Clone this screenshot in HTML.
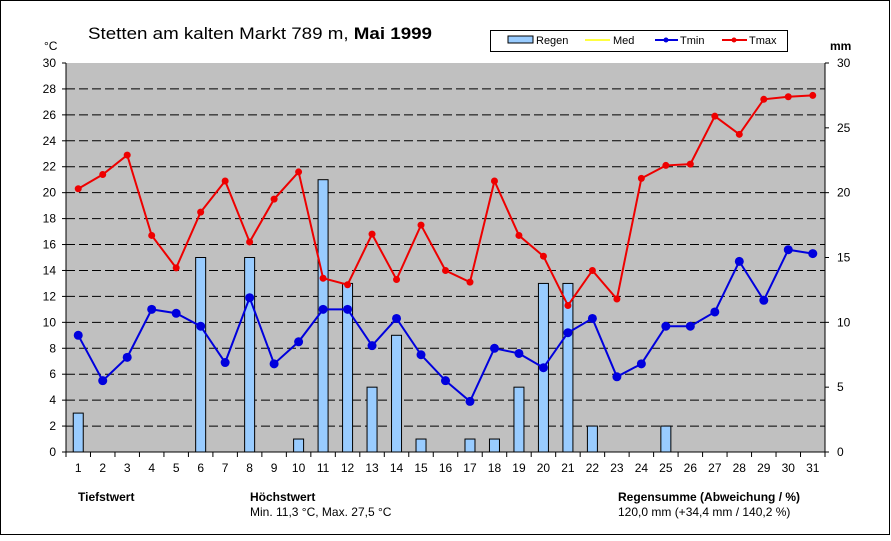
<!DOCTYPE html>
<html><head><meta charset="utf-8"><style>
body{margin:0;background:#fff;}
svg text{font-family:"Liberation Sans",Arial,sans-serif;}
</style></head><body>
<svg width="891" height="536" viewBox="0 0 891 536">
<rect x="0.5" y="0.5" width="889" height="534" fill="#fff" stroke="#000"/>
<text x="88" y="39" font-size="17" textLength="344" lengthAdjust="spacingAndGlyphs">Stetten am kalten Markt  789 m, <tspan font-weight="bold">Mai 1999</tspan></text>
<text x="44" y="50" font-size="12">°C</text>
<text x="830" y="50" font-size="12" font-weight="bold">mm</text>
<g>
<rect x="490.5" y="30.5" width="297" height="21" fill="#fff" stroke="#000"/>
<rect x="508" y="36" width="25" height="7" fill="#99ccff" stroke="#000"/>
<text x="536" y="44" font-size="11">Regen</text>
<line x1="585" y1="40" x2="610" y2="40" stroke="#ffff00" stroke-width="1.5"/>
<text x="613" y="44" font-size="11">Med</text>
<line x1="655" y1="40" x2="678" y2="40" stroke="#0000dd" stroke-width="2"/><circle cx="666" cy="40" r="2.5" fill="#0000dd"/>
<text x="680" y="44" font-size="11">Tmin</text>
<line x1="722" y1="40" x2="747" y2="40" stroke="#ee0000" stroke-width="2"/><circle cx="734" cy="40" r="2.5" fill="#ee0000"/>
<text x="749" y="44" font-size="11">Tmax</text>
</g>
<rect x="66" y="63" width="759" height="389" fill="#c0c0c0"/>
<g id="grid"></g><g id="bars"></g><g id="lines"></g><g id="axes"></g>
<text x="78" y="501" font-size="12" font-weight="bold">Tiefstwert</text>
<text x="250" y="501" font-size="12" font-weight="bold">Höchstwert</text>
<text x="250" y="516" font-size="12">Min. 11,3 °C, Max. 27,5 °C</text>
<text x="618" y="501" font-size="12" font-weight="bold">Regensumme (Abweichung / %)</text>
<text x="618" y="516" font-size="12">120,0 mm (+34,4 mm / 140,2 %)</text>
</svg>
<script>
const days=[1,2,3,4,5,6,7,8,9,10,11,12,13,14,15,16,17,18,19,20,21,22,23,24,25,26,27,28,29,30,31];
const tmax=[20.3,21.4,22.9,16.7,14.2,18.5,20.9,16.2,19.5,21.6,13.4,12.9,16.8,13.3,17.5,14.0,13.1,20.9,16.7,15.1,11.3,14.0,11.8,21.1,22.1,22.2,25.9,24.5,27.2,27.4,27.5];
const tmin=[9.0,5.5,7.3,11.0,10.7,9.7,6.9,11.9,6.8,8.5,11.0,11.0,8.2,10.3,7.5,5.5,3.9,8.0,7.6,6.5,9.2,10.3,5.8,6.8,9.7,9.7,10.8,14.7,11.7,15.6,15.3];
const rain=[3,0,0,0,0,15,0,15,0,1,21,13,5,9,1,0,1,1,5,13,13,2,0,0,2,0,0,0,0,0,0];
const leftTicks=[0,2,4,6,8,10,12,14,16,18,20,22,24,26,28,30];
const rightTicks=[0,5,10,15,20,25,30];
const NS='http://www.w3.org/2000/svg';
const X0=66,X1=825,Y0=452,Y1=63;
const step=(X1-X0)/31;
const x=d=>X0+step*(d-0.5);
const y=v=>Y0-(Y0-Y1)*v/30;
function mk(tag,attrs,parent){const e=document.createElementNS(NS,tag);for(const k in attrs)e.setAttribute(k,attrs[k]);document.getElementById(parent).appendChild(e);return e;}
leftTicks.forEach(t=>{
 if(t>0&&t<30){const l=mk('line',{x1:X0,x2:X1,y1:y(t),y2:y(t),stroke:'#000','stroke-dasharray':'9,4'},'grid');
 
 }
 mk('line',{x1:X0-4,x2:X0,y1:y(t),y2:y(t),stroke:'#000'},'axes');
 const tx=mk('text',{x:X0-10,y:y(t)+4,'font-size':12,'text-anchor':'end'},'axes');tx.textContent=t;
 
 
});
rightTicks.forEach(t=>{
 mk('line',{x1:X1,x2:X1+4,y1:y(t),y2:y(t),stroke:'#000'},'axes');
 const tx=mk('text',{x:X1+12,y:y(t)+4,'font-size':12},'axes');tx.textContent=t;
 
 
});
mk('line',{x1:X0,x2:X0,y1:Y1,y2:Y0,stroke:'#000'},'axes');
mk('line',{x1:X1,x2:X1,y1:Y1,y2:Y0,stroke:'#000'},'axes');
mk('line',{x1:X0,x2:X1,y1:Y0,y2:Y0,stroke:'#000'},'axes');
for(let i=0;i<=31;i++)mk('line',{x1:X0+step*i,x2:X0+step*i,y1:Y0,y2:Y0+5,stroke:'#000'},'axes');
days.forEach((d,i)=>{
 const tx=mk('text',{x:x(d),y:472,'font-size':12,'text-anchor':'middle'},'axes');tx.textContent=d;
 
 
 if(rain[i]>0){const b=mk('rect',{x:x(d)-5,y:y(rain[i]),width:10,height:Y0-y(rain[i]),fill:'#99ccff',stroke:'#000'},'bars');
 
 }
});
function series(vals,color,r,name){
 const p=mk('polyline',{points:vals.map((v,i)=>x(days[i])+','+y(v)).join(' '),fill:'none',stroke:color,'stroke-width':2},'lines');
 
 
 vals.forEach((v,i)=>{const c=mk('circle',{cx:x(days[i]),cy:y(v),r:r,fill:color},'lines');
 
 });
}
series(tmax,'#ee0000',3.5,'tmax');
series(tmin,'#0000dd',4.5,'tmin');
</script>
</body></html>
